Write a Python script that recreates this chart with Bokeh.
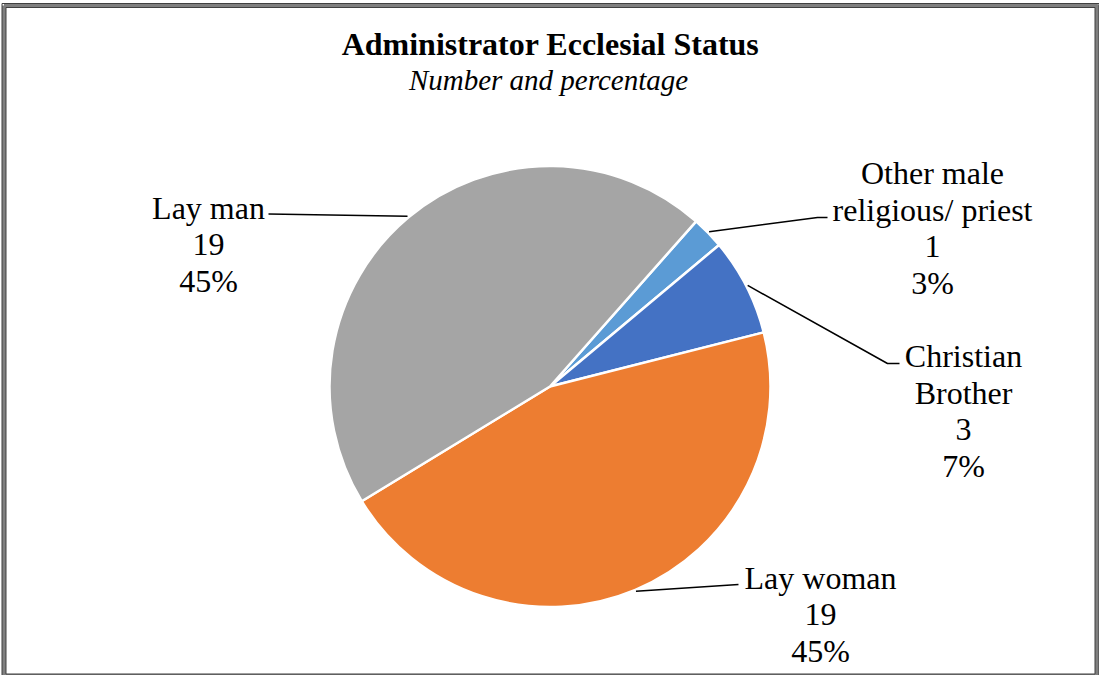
import math
from bokeh.plotting import figure
from bokeh.models import Range1d
from bokeh.core.properties import value
from bokeh.embed import file_html
from bokeh.resources import INLINE

# ---- data ----
categories = ["Other male religious/ priest", "Christian Brother", "Lay woman", "Lay man"]
counts = [1, 3, 19, 19]
pct_labels = ["3%", "7%", "45%", "45%"]
label_lines = [["Other male", "religious/ priest"], ["Christian", "Brother"], ["Lay woman"], ["Lay man"]]
colors = ["#5B9BD5", "#4472C4", "#ED7D31", "#A5A5A5"]

title = "Administrator Ecclesial Status"
subtitle = "Number and percentage"

# ---- layout (pixel coordinates; y measured downward) ----
W, H = 1099, 675
cx, cy, R = 549.5, 386.0, 220.5
first_angle = 41.5  # degrees clockwise from 12 o'clock
TEXT_SHIFT = -8.5
label_anchor = [(932, 181), (963, 364), (820, 586), (208, 216)]  # first-line baseline
elbow = [[(817, 217), (827, 217)], [(887, 363), (899, 363)], [(738, 584)], [(268, 213.5)]]
line_step = 36.5
FONT = "Liberation Serif"

def Y(y):
    return H - y

p = figure(width=W, height=H, output_backend="svg", toolbar_location=None,
           x_range=Range1d(0, W), y_range=Range1d(0, H), min_border=0)
p.axis.visible = False
p.grid.visible = False
p.outline_line_color = None
p.background_fill_color = "white"
p.border_fill_color = "white"

# border (double-line look)
bx0, bx1, by0, by1 = 3.5, 1096.5, 5, 675.5
p.line([bx0, bx1, bx1, bx0, bx0], [Y(by0), Y(by0), Y(by1), Y(by1), Y(by0)],
       line_color="#7f7f7f", line_width=4)
p.line([bx0 - 2, bx1 + 2, bx1 + 2, bx0 - 2, bx0 - 2],
       [Y(by0 - 2), Y(by0 - 2), Y(by1 + 2), Y(by1 + 2), Y(by0 - 2)], line_color="#404040", line_width=1)
p.line([bx0 + 2, bx1 - 2, bx1 - 2, bx0 + 2, bx0 + 2],
       [Y(by0 + 2), Y(by0 + 2), Y(by1 - 2), Y(by1 - 2), Y(by0 + 2)], line_color="#404040", line_width=1)

# ---- pie ----
total = float(sum(counts))
starts, ends, mids = [], [], []
theta = first_angle
for c in counts:
    t0 = theta
    t1 = theta + 360.0 * c / total
    starts.append(math.radians(90 - t1))
    ends.append(math.radians(90 - t0))
    mids.append((t0 + t1) / 2)
    theta = t1

p.wedge(x=[cx] * len(counts), y=[Y(cy)] * len(counts), radius=R,
        start_angle=starts, end_angle=ends, direction="anticlock",
        fill_color=colors, line_color="white", line_width=2.5)

# ---- leader lines ----
for m, pts in zip(mids, elbow):
    a = math.radians(m)
    sx = cx + (R + 1.5) * math.sin(a)
    sy = cy - (R + 1.5) * math.cos(a)
    xs = [sx] + [q[0] for q in pts]
    ys = [Y(sy)] + [Y(q[1]) for q in pts]
    p.line(xs, ys, line_color="black", line_width=1.5)

# ---- labels ----
tx, ty, tt = [], [], []
for lines, cnt, pct, (ax, ay) in zip(label_lines, counts, pct_labels, label_anchor):
    allines = lines + [str(cnt), pct]
    for i, s in enumerate(allines):
        tx.append(ax)
        ty.append(Y(ay + i * line_step + TEXT_SHIFT))
        tt.append(s)
p.text(x=tx, y=ty, text=tt, text_align="center", text_baseline="alphabetic",
       text_font=value(FONT), text_font_size="32px", text_color="black")

# ---- titles ----
p.text(x=[550], y=[Y(52 + TEXT_SHIFT)], text=[title], text_align="center", text_baseline="alphabetic",
       text_font=value(FONT), text_font_size="32px", text_font_style="bold", text_color="black")
p.text(x=[548], y=[Y(87.5 + TEXT_SHIFT)], text=[subtitle], text_align="center", text_baseline="alphabetic",
       text_font=value(FONT), text_font_size="29px", text_font_style="italic", text_color="black")

open("out.html", "w").write(file_html(p, INLINE))
